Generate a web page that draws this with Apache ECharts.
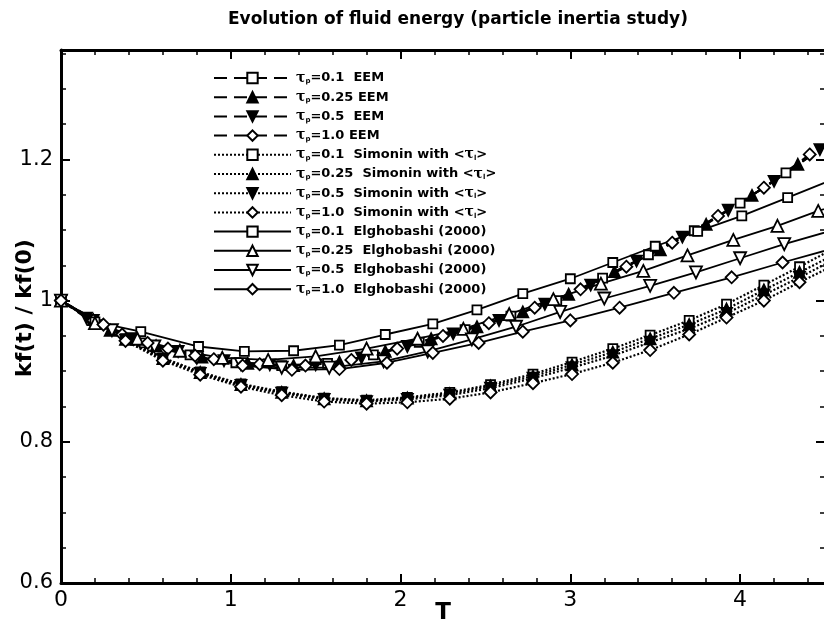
<!DOCTYPE html>
<html>
<head>
<meta charset="utf-8">
<script src="https://cdn.jsdelivr.net/npm/echarts@6/dist/echarts.min.js"></script>
<style>
html, body { margin: 0; padding: 0; background: #fff; }
#main { width: 824px; height: 624px; }
</style>
</head>
<body>
<div id="main"></div>
<script>
// EEM (dashed)
var eem01 = [[0,1.000],[0.22,0.966],[0.49,0.940],[0.76,0.923],[1.03,0.912],[1.30,0.908],[1.57,0.911],[1.84,0.923],[2.11,0.941],[2.38,0.959],[2.65,0.978],[2.92,1.000],[3.19,1.032],[3.46,1.065],[3.73,1.099],[4.00,1.138],[4.27,1.181],[4.55,1.228]];
var eem025 = [[0,1.000],[0.29,0.958],[0.56,0.936],[0.83,0.920],[1.10,0.911],[1.37,0.908],[1.64,0.913],[1.91,0.928],[2.18,0.946],[2.45,0.963],[2.72,0.984],[2.99,1.009],[3.26,1.041],[3.53,1.072],[3.80,1.108],[4.07,1.149],[4.34,1.193],[4.60,1.236]];
var eem05 = [[0,1.000],[0.15,0.975],[0.42,0.946],[0.69,0.928],[0.96,0.915],[1.23,0.909],[1.50,0.909],[1.77,0.919],[2.04,0.935],[2.31,0.953],[2.58,0.972],[2.85,0.995],[3.12,1.022],[3.39,1.056],[3.66,1.090],[3.93,1.128],[4.20,1.169],[4.47,1.214],[4.60,1.236]];
var eem10 = [[0,1.000],[0.36,0.952],[0.63,0.932],[0.90,0.917],[1.17,0.910],[1.44,0.908],[1.71,0.916],[1.98,0.932],[2.25,0.950],[2.52,0.968],[2.79,0.990],[3.06,1.016],[3.33,1.048],[3.60,1.082],[3.87,1.120],[4.14,1.160],[4.41,1.207],[4.60,1.236]];

// Simonin (dotted), same times for the four runs
var simT = [0,0.19,0.38,0.60,0.82,1.06,1.30,1.55,1.80,2.04,2.29,2.53,2.78,3.01,3.25,3.47,3.70,3.92,4.14,4.35,4.57];
var sim01 = [1.000,0.973,0.946,0.919,0.899,0.882,0.871,0.862,0.859,0.863,0.870,0.881,0.896,0.913,0.932,0.951,0.972,0.995,1.022,1.048,1.076];
var sim025 = [1.000,0.973,0.945,0.918,0.898,0.881,0.870,0.861,0.858,0.862,0.868,0.879,0.893,0.909,0.927,0.946,0.966,0.988,1.015,1.040,1.067];
var sim05 = [1.000,0.972,0.944,0.917,0.897,0.880,0.869,0.860,0.857,0.860,0.866,0.876,0.890,0.905,0.922,0.941,0.960,0.982,1.008,1.033,1.060];
var sim10 = [1.000,0.972,0.943,0.915,0.895,0.878,0.866,0.857,0.854,0.856,0.861,0.870,0.883,0.896,0.912,0.930,0.952,0.976,1.000,1.026,1.052];

// Elghobashi (2000), solid
var elg01 = [[0,1.000],[0.20,0.970],[0.47,0.956],[0.81,0.935],[1.08,0.928],[1.37,0.929],[1.64,0.937],[1.91,0.952],[2.19,0.967],[2.45,0.987],[2.72,1.010],[3.00,1.031],[3.25,1.054],[3.50,1.077],[3.75,1.098],[4.01,1.120],[4.28,1.146],[4.55,1.172]];
var elg025 = [[0,1.000],[0.20,0.968],[0.45,0.946],[0.70,0.929],[0.95,0.919],[1.22,0.916],[1.50,0.921],[1.80,0.932],[2.10,0.946],[2.37,0.960],[2.64,0.981],[2.90,1.002],[3.18,1.024],[3.43,1.042],[3.69,1.064],[3.96,1.086],[4.22,1.106],[4.46,1.127],[4.55,1.134]];
var elg05 = [[0,1.000],[0.30,0.958],[0.55,0.935],[0.80,0.919],[1.06,0.910],[1.30,0.905],[1.58,0.905],[1.90,0.914],[2.16,0.928],[2.42,0.945],[2.68,0.963],[2.94,0.984],[3.20,1.003],[3.47,1.021],[3.74,1.040],[4.00,1.060],[4.26,1.080],[4.55,1.100]];
var elg10 = [[0,1.000],[0.25,0.966],[0.51,0.940],[0.79,0.922],[1.07,0.908],[1.36,0.902],[1.64,0.903],[1.92,0.912],[2.19,0.926],[2.46,0.940],[2.72,0.956],[3.00,0.972],[3.29,0.990],[3.61,1.011],[3.95,1.033],[4.25,1.054],[4.55,1.074]];

// tick labels
var xTicks = ['0', '1', '2', '3', '4'];
var yTicks = ['0.6', '0.8', '1', '1.2'];

var names = [
  'τp=0.1  EEM', 'τp=0.25 EEM', 'τp=0.5  EEM', 'τp=1.0  EEM',
  'τp=0.1  Simonin with <τl>', 'τp=0.25  Simonin with <τl>', 'τp=0.5  Simonin with <τl>', 'τp=1.0  Simonin with <τl>',
  'τp=0.1  Elghobashi (2000)', 'τp=0.25  Elghobashi (2000)', 'τp=0.5  Elghobashi (2000)', 'τp=1.0  Elghobashi (2000)'
];
var labels = [
  '{t|τ}{s|p}{a|=0.1  EEM}', '{t|τ}{s|p}{a|=0.25 EEM}', '{t|τ}{s|p}{a|=0.5  EEM}', '{t|τ}{s|p}{a|=1.0 EEM}',
  '{t|τ}{s|p}{a|=0.1  Simonin with <}{t|τ}{s|l}{a|>}', '{t|τ}{s|p}{a|=0.25  Simonin with <}{t|τ}{s|l}{a|>}',
  '{t|τ}{s|p}{a|=0.5  Simonin with <}{t|τ}{s|l}{a|>}', '{t|τ}{s|p}{a|=1.0  Simonin with <}{t|τ}{s|l}{a|>}',
  '{t|τ}{s|p}{a|=0.1  Elghobashi (2000)}', '{t|τ}{s|p}{a|=0.25  Elghobashi (2000)}',
  '{t|τ}{s|p}{a|=0.5  Elghobashi (2000)}', '{t|τ}{s|p}{a|=1.0  Elghobashi (2000)}'
];

var FONT = 'DejaVu Sans';
var DOWN = 'path://M0,0L12,0L6,11Z';

function pairs(t, v) {
  return t.map(function (x, i) { return [x, v[i]]; });
}

function mk(i, data, symbol, size, filled, dash, width) {
  return {
    name: names[i],
    type: 'line',
    xAxisIndex: 0,
    yAxisIndex: 0,
    data: data,
    symbol: symbol,
    symbolSize: size,
    showSymbol: true,
    lineStyle: { color: '#000', width: width, type: dash },
    itemStyle: { color: filled ? '#000' : '#fff', borderColor: '#000', borderWidth: 1.8 },
    z: 3
  };
}

var EEMDASH = [13, 7];
var DOT = [2, 2];

var series = [
  mk(0, eem01, 'rect', 9, false, EEMDASH, 2),
  mk(1, eem025, 'triangle', 11, true, EEMDASH, 2),
  mk(2, eem05, DOWN, 11, true, EEMDASH, 2),
  mk(3, eem10, 'diamond', 12, false, EEMDASH, 2),
  mk(4, pairs(simT, sim01), 'rect', 9, false, DOT, 2.2),
  mk(5, pairs(simT, sim025), 'triangle', 11, true, DOT, 2.2),
  mk(6, pairs(simT, sim05), DOWN, 11, true, DOT, 2.2),
  mk(7, pairs(simT, sim10), 'diamond', 12, false, DOT, 2.2),
  mk(8, elg01, 'rect', 9, false, 'solid', 1.8),
  mk(9, elg025, 'triangle', 12, false, 'solid', 1.8),
  mk(10, elg05, DOWN, 12, false, 'solid', 1.8),
  mk(11, elg10, 'diamond', 12, false, 'solid', 1.8)
];

function tickText(list) {
  return function (v) {
    var s = String(Math.round(v * 1000) / 1000);
    return list.indexOf(s) >= 0 ? s : '';
  };
}

function ticks(len, w) {
  return { show: true, inside: true, length: len, lineStyle: { color: '#000', width: w } };
}

var X0 = { type: 'value', min: 0, max: 4.5, splitLine: { show: false } };
var Y0 = { type: 'value', min: 0.6, max: 1.355, splitLine: { show: false } };
var LINE = { show: true, onZero: false, lineStyle: { color: '#000', width: 3 } };
var NOLINE = { show: false, onZero: false };

var option = {
  animation: false,
  backgroundColor: '#fff',
  title: {
    text: 'Evolution of fluid energy (particle inertia study)',
    left: 228, top: 11, padding: 0,
    textStyle: { fontFamily: FONT, fontSize: 17, fontWeight: 'bold', color: '#000' }
  },
  grid: [
    { left: 61, top: 50, right: -1, bottom: 41, outerBoundsMode: 'none', containLabel: false },
    { left: 61, top: 50, right: -1, bottom: 41, outerBoundsMode: 'none', containLabel: false }
  ],
  legend: {
    orient: 'vertical', left: 213, top: 71, padding: 0,
    itemWidth: 77, itemHeight: 13, itemGap: 5.2,
    selectedMode: false,
    data: names,
    formatter: function (name) { return labels[names.indexOf(name)]; },
    textStyle: {
      color: '#000', fontFamily: FONT, fontSize: 13, fontWeight: 'bold',
      rich: {
        a: { fontFamily: FONT, fontSize: 13, fontWeight: 'bold', lineHeight: 13.7, color: '#000' },
        t: { fontFamily: 'DejaVu Serif', fontSize: 14, lineHeight: 13.7, color: '#000' },
        s: { fontFamily: FONT, fontSize: 7, fontWeight: 'bold', lineHeight: 9, verticalAlign: 'bottom', color: '#000' }
      }
    }
  },
  xAxis: [
    Object.assign({}, X0, {
      gridIndex: 0, position: 'bottom', interval: 1,
      axisLine: LINE, axisTick: ticks(9, 2),
      axisLabel: {
        show: true, color: '#000', fontFamily: FONT, fontSize: 22, margin: 6,
        formatter: tickText(xTicks)
      },
      name: 'T', nameLocation: 'middle', nameGap: 19, nameMoveOverlap: false,
      nameTextStyle: { color: '#000', fontFamily: FONT, fontSize: 23, fontWeight: 'bold' }
    }),
    Object.assign({}, X0, {
      gridIndex: 0, position: 'top', interval: 1,
      axisLine: LINE, axisTick: ticks(9, 2), axisLabel: { show: false }
    }),
    Object.assign({}, X0, {
      gridIndex: 1, position: 'bottom', interval: 0.2,
      axisLine: NOLINE, axisTick: ticks(5, 1.5), axisLabel: { show: false }
    }),
    Object.assign({}, X0, {
      gridIndex: 1, position: 'top', interval: 0.2,
      axisLine: NOLINE, axisTick: ticks(5, 1.5), axisLabel: { show: false }
    })
  ],
  yAxis: [
    Object.assign({}, Y0, {
      gridIndex: 0, position: 'left', interval: 0.2,
      axisLine: LINE, axisTick: ticks(9, 2),
      axisLabel: {
        show: true, color: '#000', fontFamily: FONT, fontSize: 21, margin: 8,
        formatter: tickText(yTicks)
      }
    }),
    Object.assign({}, Y0, {
      gridIndex: 0, position: 'right', interval: 0.2,
      axisLine: LINE, axisTick: ticks(9, 2), axisLabel: { show: false }
    }),
    Object.assign({}, Y0, {
      gridIndex: 1, position: 'left', interval: 0.05,
      axisLine: NOLINE, axisTick: ticks(5, 1.5), axisLabel: { show: false }
    }),
    Object.assign({}, Y0, {
      gridIndex: 1, position: 'right', interval: 0.05,
      axisLine: NOLINE, axisTick: ticks(5, 1.5), axisLabel: { show: false }
    })
  ],
  graphic: [{
    type: 'text', x: 25, y: 308, rotation: Math.PI / 2,
    style: {
      text: 'kf(t) / kf(0)', x: 0, y: 0, align: 'center', verticalAlign: 'middle',
      font: 'bold 22px "DejaVu Sans"', fill: '#000'
    }
  }],
  series: series
};

var myChart = echarts.init(document.getElementById('main'));
myChart.setOption(option);
</script>
</body>
</html>
